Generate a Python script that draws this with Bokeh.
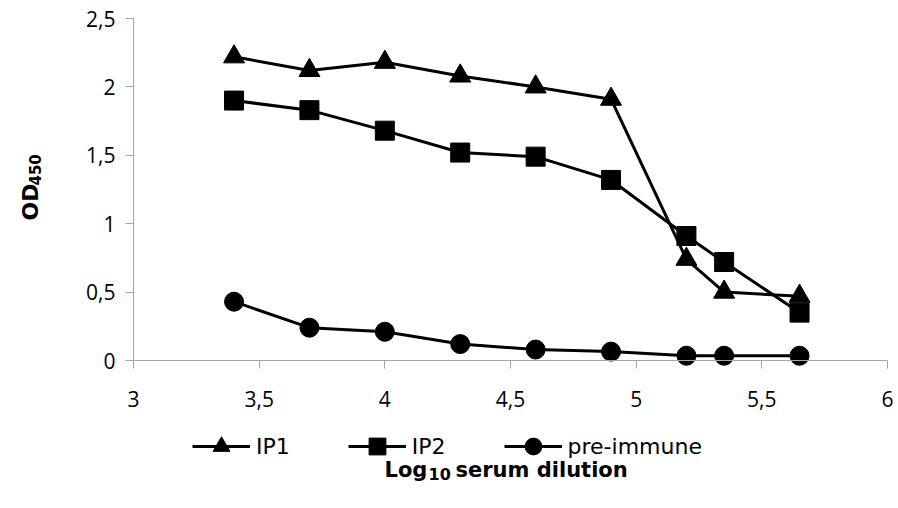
from bokeh.plotting import figure
from bokeh.models import Range1d, FixedTicker, Legend, LegendItem, Label
from bokeh.embed import file_html
from bokeh.resources import INLINE
import math

# ---- data ----
log_dilution = [3.40, 3.70, 4.00, 4.30, 4.60, 4.90, 5.20, 5.35, 5.65]
ip1 = [2.22, 2.12, 2.18, 2.08, 2.00, 1.91, 0.74, 0.50, 0.47]
ip2 = [1.90, 1.83, 1.68, 1.52, 1.49, 1.32, 0.91, 0.72, 0.35]
pre_immune = [0.43, 0.24, 0.21, 0.12, 0.08, 0.065, 0.035, 0.035, 0.035]
series_names = ["IP1", "IP2", "pre-immune"]

x_ticks = [3, 3.5, 4, 4.5, 5, 5.5, 6]
x_tick_labels = ["3", "3,5", "4", "4,5", "5", "5,5", "6"]
y_ticks = [0, 0.5, 1, 1.5, 2, 2.5]
y_tick_labels = ["0", "0,5", "1", "1,5", "2", "2,5"]
x_min, x_max = 3, 6
y_min, y_max = 0, 2.5

AXIS_GREY = "#a6a6a6"
TICK_FONT = "Open Sans"
TITLE_FONT = "DejaVu Sans"

# ---- layout (pixels) ----
W, H = 896, 506
PLOT_LEFT, PLOT_W = 133, 754      # pixel span of x_min..x_max
PLOT_TOP, PLOT_H = 18, 342        # pixel span of y_max..y_min
px_per_x = PLOT_W / (x_max - x_min)
px_per_y = PLOT_H / (y_max - y_min)

def dx(px):
    return x_min + (px - PLOT_LEFT) / px_per_x

def dy(py):
    return y_max - (py - PLOT_TOP) / px_per_y

p = figure(
    frame_width=W, frame_height=H,
    min_border=0,
    x_range=Range1d(dx(0), dx(W)), y_range=Range1d(dy(H), dy(0)),
    output_backend="svg", toolbar_location=None,
)
p.outline_line_color = None
p.grid.visible = False

for ax, ticks, labels, loc, bnds in (
    (p.xaxis[0], x_ticks, x_tick_labels, y_min, (x_min, x_max)),
    (p.yaxis[0], y_ticks, y_tick_labels, x_min, (y_min, y_max)),
):
    ax.fixed_location = loc
    ax.bounds = bnds
    ax.ticker = FixedTicker(ticks=ticks)
    ax.major_label_overrides = {t: l for t, l in zip(ticks, labels)}
    ax.axis_line_color = AXIS_GREY
    ax.major_tick_line_color = AXIS_GREY
    ax.major_tick_out = 8
    ax.major_tick_in = 0
    ax.minor_tick_line_color = None
    ax.major_label_text_font = TICK_FONT
    ax.major_label_text_font_size = "21px"
    ax.major_label_text_color = "#000000"
p.xaxis.major_label_standoff = 22
p.yaxis.major_label_standoff = 10

lw = 3
r1l = p.line(log_dilution, ip1, line_color="black", line_width=lw)
r1m = p.scatter(log_dilution, ip1, marker="triangle", size=21, fill_color="black", line_color="black")
r2l = p.line(log_dilution, ip2, line_color="black", line_width=lw)
r2m = p.scatter(log_dilution, ip2, marker="square", size=19, fill_color="black", line_color="black")
r3l = p.line(log_dilution, pre_immune, line_color="black", line_width=lw)
r3m = p.scatter(log_dilution, pre_immune, marker="circle", size=19, fill_color="black", line_color="black")

legend = Legend(
    items=[
        LegendItem(label=series_names[0], renderers=[r1l, r1m]),
        LegendItem(label=series_names[1], renderers=[r2l, r2m]),
        LegendItem(label=series_names[2], renderers=[r3l, r3m]),
    ],
    orientation="horizontal",
    location=(192, H - 467),
    glyph_width=58, glyph_height=42,
    label_standoff=6, spacing=58, padding=0, margin=0,
    label_text_font=TITLE_FONT, label_text_font_size="22px", label_text_color="#000000",
    background_fill_alpha=0, border_line_color=None,
)
p.add_layout(legend, "center")

bold = dict(text_font=TITLE_FONT, text_font_style="bold", text_color="#000000",
            text_baseline="alphabetic")

# x-axis title: Log10 serum dilution
xt_x, xt_y = (x_min + x_max) / 2, dy(469)
p.add_layout(Label(x=xt_x, y=xt_y, x_offset=-126, text="Log", text_font_size="21px", **bold))
p.add_layout(Label(x=xt_x, y=xt_y, x_offset=-82, y_offset=-4, text="10", text_font_size="16px", **bold))
p.add_layout(Label(x=xt_x, y=xt_y, x_offset=-55, text="serum dilution", text_font_size="21px", **bold))

# y-axis title: OD450 (rotated)
yt_x, yt_y = dx(30), dy(220)
p.add_layout(Label(x=yt_x, y=yt_y, text="OD", angle=math.pi / 2, text_font_size="22px", **bold))
p.add_layout(Label(x=yt_x, y=yt_y, x_offset=4, y_offset=35, text="450", angle=math.pi / 2,
                   text_font_size="15px", **bold))

open("out.html", "w").write(file_html(p, INLINE))
